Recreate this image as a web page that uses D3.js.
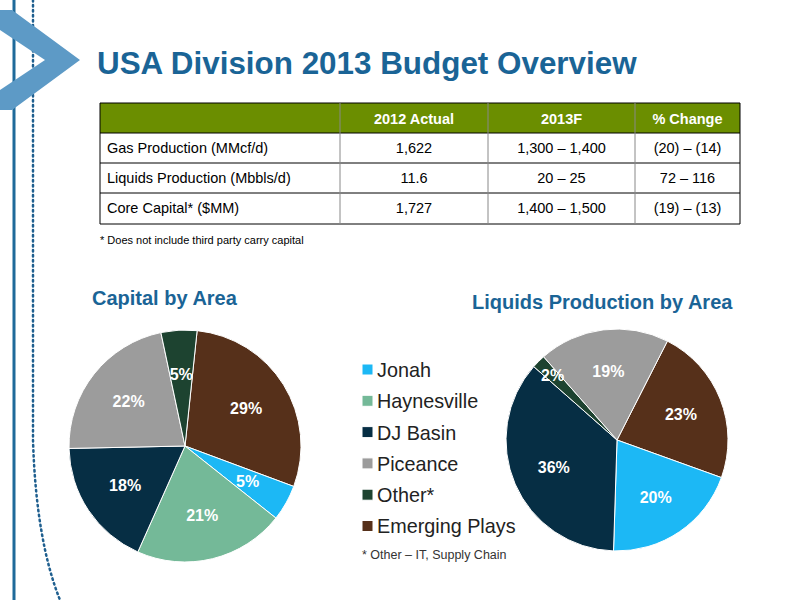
<!DOCTYPE html>
<html lang="en">
<head>
<meta charset="UTF-8">
<title>USA Division 2013 Budget Overview</title>
<script src="https://cdn.jsdelivr.net/npm/d3@7"></script>
<style>body{margin:0;background:#fff}</style>
</head>
<body>
<script>
// data
const areas = ["Jonah", "Haynesville", "DJ Basin", "Piceance", "Other*", "Emerging Plays"];
const colors = ["#1cb8f5", "#74b998", "#062e44", "#9c9c9c", "#1d4330", "#56301a"];
const capitalOrder = ["Emerging Plays", "Jonah", "Haynesville", "DJ Basin", "Piceance", "Other*"];
const capitalValues = [29, 5, 21, 18, 22, 5];
const liquidsOrder = ["Emerging Plays", "Jonah", "DJ Basin", "Other*", "Piceance"];
const liquidsValues = [23, 20, 36, 2, 19];
const tableHeader = ["", "2012 Actual", "2013F", "% Change"];
const tableRows = [
  ["Gas Production (MMcf/d)", "1,622", "1,300 – 1,400", "(20) – (14)"],
  ["Liquids Production (Mbbls/d)", "11.6", "20 – 25", "72 – 116"],
  ["Core Capital* ($MM)", "1,727", "1,400 – 1,500", "(19) – (13)"]
];

const svg = d3.select("body").append("svg").attr("width", 800).attr("height", 600)
  .style("font-family", "Arial, 'Liberation Sans', sans-serif");

// left decoration
svg.append("line").attr("x1", 14).attr("x2", 14).attr("y1", 0).attr("y2", 600)
  .attr("stroke", "#1f6a9a").attr("stroke-width", 3);
svg.append("path").attr("d", "M33,0 L33,440 Q36,540 60,600")
  .attr("fill", "none").attr("stroke", "#1f5f8f").attr("stroke-width", 2.5)
  .attr("stroke-dasharray", "1.5,3.5").attr("stroke-linecap", "round");
svg.append("path").attr("d", "M0,10 L12,10 L80,60 L12,110 L0,110 L0,90 L45,60 L0,30 Z")
  .attr("fill", "#5d9ac6");

svg.append("text").attr("x", 97).attr("y", 74).text("USA Division 2013 Budget Overview")
  .attr("font-size", 31.4).attr("font-weight", "bold").attr("fill", "#1a6496");

// table
const colX = [100, 340, 488, 635, 740];
const rowY = [103, 133, 163, 193, 224];
svg.append("rect").attr("x", 100).attr("y", 103).attr("width", 640).attr("height", 30).attr("fill", "#6b8e00");
tableHeader.forEach((h, i) => {
  svg.append("text").attr("x", (colX[i] + colX[i + 1]) / 2).attr("y", 124)
    .attr("text-anchor", "middle").attr("fill", "#fff").attr("font-weight", "bold")
    .attr("font-size", 14.5).text(h);
});
tableRows.forEach((r, j) => {
  r.forEach((c, i) => {
    svg.append("text").attr("x", i === 0 ? 107 : (colX[i] + colX[i + 1]) / 2)
      .attr("y", rowY[j + 1] + 20).attr("text-anchor", i === 0 ? "start" : "middle")
      .attr("font-size", 14.5).attr("fill", "#000").text(c);
  });
});
const grid = svg.append("g").attr("stroke", "#000").attr("stroke-width", 1);
rowY.slice(1).forEach(y => grid.append("line").attr("x1", 100).attr("x2", 740).attr("y1", y).attr("y2", y));
grid.append("line").attr("x1", 100).attr("x2", 740).attr("y1", 103).attr("y2", 103);
colX.forEach(x => grid.append("line").attr("x1", x).attr("x2", x).attr("y1", 103).attr("y2", 224)
  .attr("stroke", x === 100 || x === 740 ? "#000" : "#888"));
svg.append("text").attr("x", 100).attr("y", 244).attr("font-size", 11)
  .text("* Does not include third party carry capital");

const color = d3.scaleOrdinal().domain(areas).range(colors);

function drawPie(cx, cy, r, names, values, startDeg, title, tx, ty) {
  svg.append("text").attr("x", tx).attr("y", ty).attr("font-size", 20).attr("font-weight", "bold")
    .attr("fill", "#1a6496").text(title);
  const start = startDeg * Math.PI / 180;
  const pie = d3.pie().sort(null).startAngle(start).endAngle(start + 2 * Math.PI);
  const arcs = pie(values);
  const arc = d3.arc().innerRadius(0).outerRadius(r);
  const lab = d3.arc().innerRadius(r * 0.62).outerRadius(r * 0.62);
  const g = svg.append("g").attr("transform", `translate(${cx},${cy})`);
  g.selectAll("path").data(arcs).join("path").attr("d", arc)
    .attr("fill", (d, i) => color(names[i])).attr("stroke", "#fff").attr("stroke-width", 1);
  g.selectAll("text").data(arcs).join("text")
    .attr("transform", d => {
      const c = d.value < 4 ? d3.arc().innerRadius(r * 0.82).outerRadius(r * 0.82).centroid(d) : lab.centroid(d);
      return `translate(${c})`;
    })
    .attr("text-anchor", "middle").attr("dy", "0.35em").attr("fill", "#fff")
    .attr("font-weight", "bold").attr("font-size", 16).text(d => d.value + "%");
}
drawPie(185, 446, 116, capitalOrder, capitalValues, 6, "Capital by Area", 92, 305);
drawPie(617, 440, 111, liquidsOrder, liquidsValues, 27, "Liquids Production by Area", 472, 309);

// legend
const lg = svg.append("g").attr("transform", "translate(362,370)");
areas.forEach((a, i) => {
  const y = i * 31.3;
  lg.append("rect").attr("x", 0).attr("y", y - 6).attr("width", 11).attr("height", 11)
    .attr("fill", color(a)).attr("stroke", "#fff");
  lg.append("text").attr("x", 15).attr("y", y).attr("dy", "0.35em").attr("font-size", 19.8)
    .attr("fill", "#222").text(a);
});
svg.append("text").attr("x", 362).attr("y", 559).attr("font-size", 12.5).attr("fill", "#333")
  .text("* Other – IT, Supply Chain");
</script>
</body>
</html>
